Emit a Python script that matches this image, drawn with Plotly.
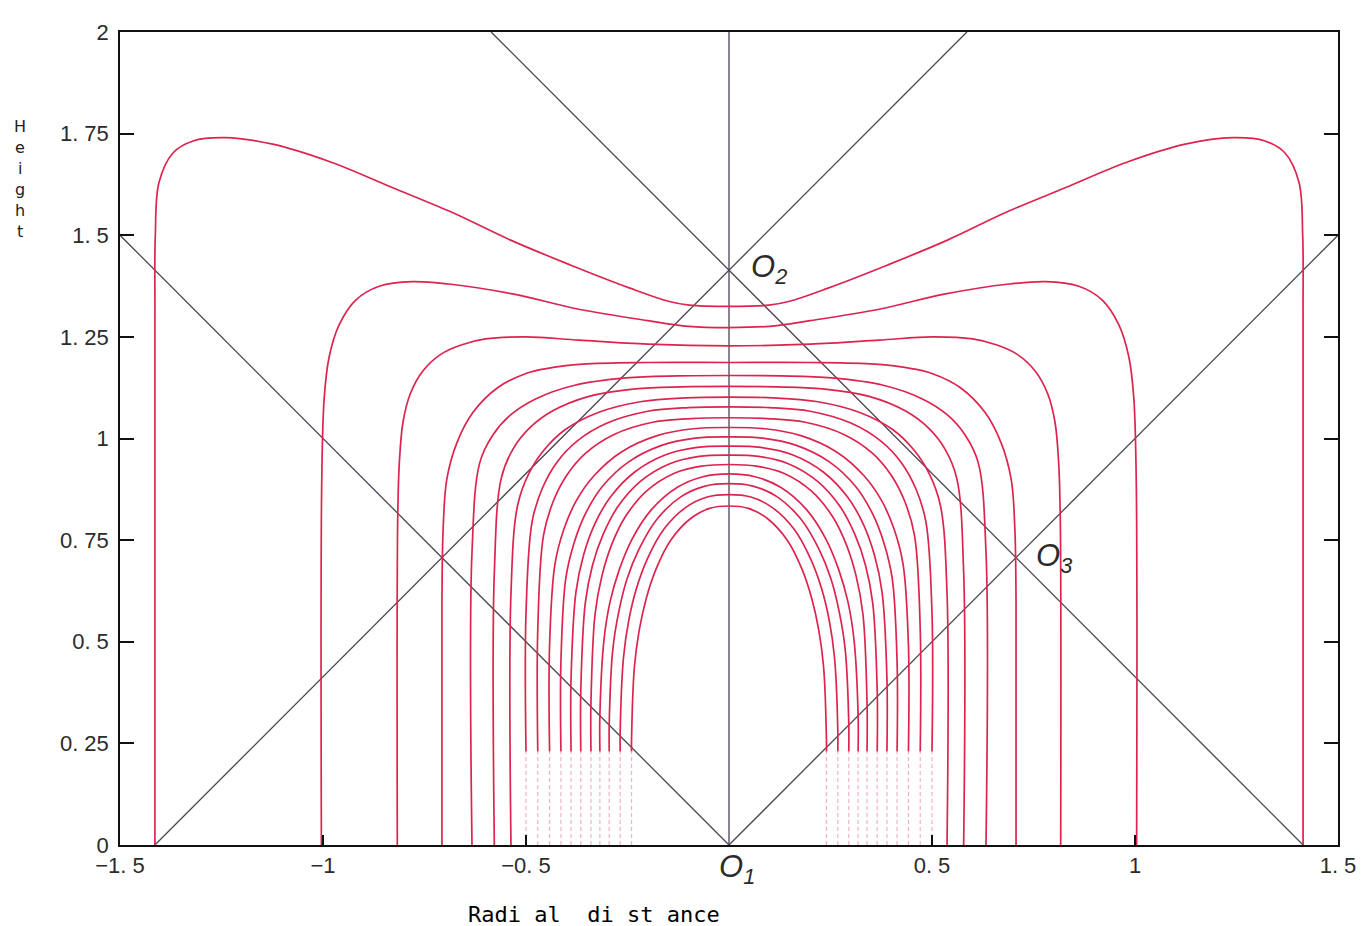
import plotly.graph_objects as go

# ---------------- data (right half of each symmetric curve) ----------------
c1_x = [0, 0.098, 0.147, 0.244, 0.391, 0.538, 0.684, 0.831, 0.978, 1.124, 1.241, 1.320, 1.369, 1.404, 1.413, 1.414, 1.414]
c1_y = [1.325, 1.328, 1.337, 1.370, 1.427, 1.488, 1.557, 1.618, 1.679, 1.724, 1.740, 1.732, 1.703, 1.630, 1.50, 1.30, 0]
c2_x = [0, 0.10, 0.20, 0.37, 0.53, 0.69, 0.78, 0.86, 0.92, 0.96, 0.985, 0.997, 1.003, 1.004]
c2_y = [1.273, 1.276, 1.290, 1.318, 1.355, 1.380, 1.386, 1.375, 1.340, 1.280, 1.200, 1.100, 0.900, 0]
c3_x = [0, 0.20, 0.37, 0.50, 0.60, 0.66, 0.71, 0.755, 0.785, 0.803, 0.812, 0.816, 0.817]
c3_y = [1.228, 1.232, 1.242, 1.250, 1.245, 1.230, 1.207, 1.165, 1.110, 1.040, 0.940, 0.800, 0]
c4_x = [0, 0.20, 0.36, 0.45, 0.50, 0.57, 0.63, 0.67, 0.695, 0.704, 0.707, 0.707]
c4_y = [1.187, 1.187, 1.183, 1.172, 1.160, 1.125, 1.065, 0.990, 0.900, 0.780, 0.600, 0]
c5_x = [0, 0.127, 0.253, 0.380, 0.475, 0.538, 0.582, 0.614, 0.633, 0.633]
c5_y = [1.155, 1.154, 1.149, 1.131, 1.098, 1.058, 1.008, 0.940, 0.720, 0]
c6_x = [0, 0.116, 0.231, 0.347, 0.434, 0.491, 0.532, 0.561, 0.578, 0.578]
c6_y = [1.128, 1.127, 1.122, 1.103, 1.068, 1.026, 0.974, 0.902, 0.670, 0]
c7_x = [0, 0.107, 0.215, 0.322, 0.403, 0.456, 0.494, 0.521, 0.537, 0.537]
c7_y = [1.102, 1.100, 1.091, 1.064, 1.022, 0.971, 0.912, 0.834, 0.620, 0]
c8_x = [0, 0.100, 0.200, 0.300, 0.375, 0.425, 0.460, 0.485, 0.500, 0.500]
c8_y = [1.078, 1.076, 1.067, 1.038, 0.993, 0.940, 0.877, 0.795, 0.570, 0]
c9_x = [0, 0.094, 0.188, 0.283, 0.353, 0.400, 0.433, 0.457, 0.471, 0.471]
c9_y = [1.051, 1.049, 1.040, 1.010, 0.964, 0.909, 0.845, 0.761, 0.530, 0]
c10_x = [0, 0.088, 0.177, 0.265, 0.332, 0.376, 0.407, 0.429, 0.442, 0.442]
c10_y = [1.027, 1.024, 1.007, 0.967, 0.909, 0.847, 0.776, 0.689, 0.490, 0]
c11_x = [0, 0.083, 0.166, 0.248, 0.311, 0.352, 0.381, 0.402, 0.414, 0.414]
c11_y = [1.004, 1.001, 0.983, 0.942, 0.883, 0.818, 0.745, 0.656, 0.450, 0]
c12_x = [0, 0.078, 0.156, 0.233, 0.292, 0.331, 0.358, 0.377, 0.389, 0.389]
c12_y = [0.981, 0.978, 0.960, 0.917, 0.856, 0.789, 0.714, 0.622, 0.410, 0]
c13_x = [0, 0.073, 0.146, 0.219, 0.274, 0.310, 0.336, 0.354, 0.365, 0.365]
c13_y = [0.959, 0.956, 0.938, 0.894, 0.832, 0.764, 0.689, 0.595, 0.380, 0]
c14_x = [0, 0.068, 0.136, 0.204, 0.255, 0.289, 0.313, 0.330, 0.340, 0.340]
c14_y = [0.936, 0.932, 0.914, 0.870, 0.808, 0.739, 0.662, 0.567, 0.350, 0]
c15_x = [0, 0.064, 0.127, 0.191, 0.239, 0.270, 0.293, 0.308, 0.318, 0.318]
c15_y = [0.913, 0.906, 0.880, 0.825, 0.752, 0.678, 0.598, 0.504, 0.320, 0]
c16_x = [0, 0.059, 0.118, 0.177, 0.221, 0.251, 0.271, 0.286, 0.295, 0.295]
c16_y = [0.889, 0.883, 0.857, 0.802, 0.729, 0.655, 0.576, 0.483, 0.300, 0]
c17_x = [0, 0.054, 0.107, 0.161, 0.201, 0.228, 0.247, 0.260, 0.268, 0.268]
c17_y = [0.862, 0.856, 0.830, 0.776, 0.704, 0.631, 0.552, 0.460, 0.280, 0]
c18_x = [0, 0.048, 0.096, 0.144, 0.180, 0.204, 0.221, 0.233, 0.240, 0.240]
c18_y = [0.834, 0.828, 0.802, 0.749, 0.678, 0.606, 0.529, 0.438, 0.260, 0]

CURVES = [(c1_x, c1_y), (c2_x, c2_y), (c3_x, c3_y), (c4_x, c4_y), (c5_x, c5_y),
          (c6_x, c6_y), (c7_x, c7_y), (c8_x, c8_y), (c9_x, c9_y), (c10_x, c10_y),
          (c11_x, c11_y), (c12_x, c12_y), (c13_x, c13_y), (c14_x, c14_y),
          (c15_x, c15_y), (c16_x, c16_y), (c17_x, c17_y), (c18_x, c18_y)]

# straight construction lines: segment start / end points
guide_x0 = [0, 0, 0, -1.414, 1.414]
guide_y0 = [0, 0, 0, 0, 0]
guide_x1 = [0, 1.5, -1.5, 0.586, -0.586]
guide_y1 = [2, 1.5, 1.5, 2, 2]

# labelled points
point_names = ["O", "O", "O"]
point_subs = ["1", "2", "3"]
point_x = [0.0, 0.0, 0.707]
point_y = [0.0, 1.414, 0.707]

x_tickvals = [-1.5, -1, -0.5, 0.5, 1, 1.5]
x_ticktext = ["\u22121.\u00a05", "\u22121", "\u22120.\u00a05", "0.\u00a05", "1", "1.\u00a05"]
y_tickvals = [0, 0.25, 0.5, 0.75, 1, 1.25, 1.5, 1.75, 2]
y_ticktext = ["0", "0.\u00a025", "0.\u00a05", "0.\u00a075", "1", "1.\u00a025", "1.\u00a05", "1.\u00a075", "2"]

x_title = "Radi\u00a0al\u00a0\u00a0di\u00a0st\u00a0ance"
y_title_letters = ["H", "e", "i", "g", "h", "t"]

# ---------------- styles ----------------
CURVE_COLOR = "#dc2450"
FAINT_COLOR = "rgba(236,110,160,0.55)"
GUIDE_COLOR = "#4d4352"
TEXT_COLOR = "#2b2b2b"
FONT = "Liberation Sans, Arial, sans-serif"
FADE_Y = 0.23
FIRST_FAINT = 7


def mirror(xs, ys):
    return [-v for v in xs[::-1]] + list(xs[1:]), list(ys[::-1]) + list(ys[1:])


fig = go.Figure()

# guide lines
gx, gy = [], []
for a, b, c, d in zip(guide_x0, guide_y0, guide_x1, guide_y1):
    gx += [a, c, None]
    gy += [b, d, None]
fig.add_trace(go.Scatter(x=gx, y=gy, mode="lines",
                         line=dict(color=GUIDE_COLOR, width=1.3),
                         hoverinfo="skip", showlegend=False))

# curves
faint_x, faint_y = [], []
for i, (xs, ys) in enumerate(CURVES):
    ys_use = list(ys)
    if i >= FIRST_FAINT:
        ys_use[-1] = FADE_Y
        r = xs[-1]
        faint_x += [-r, -r, None, r, r, None]
        faint_y += [0, FADE_Y, None, 0, FADE_Y, None]
    mx, my = mirror(xs, ys_use)
    fig.add_trace(go.Scatter(x=mx, y=my, mode="lines",
                             line=dict(color=CURVE_COLOR, width=1.7, shape="spline", smoothing=1.0),
                             hoverinfo="skip", showlegend=False))

fig.add_trace(go.Scatter(x=faint_x, y=faint_y, mode="lines",
                         line=dict(color=FAINT_COLOR, width=1.2, dash="4px,3px"),
                         hoverinfo="skip", showlegend=False))

# point labels
offsets = [(8, -2, "center", "top"), (20, 1, "left", "middle"), (18, 0, "left", "middle")]
for name, sub, px, py, (dx, dy, xa, ya) in zip(point_names, point_subs, point_x, point_y, offsets):
    fig.add_annotation(x=px, y=py, xref="x", yref="y",
                       text=f"<i>{name}</i><sub><i>{sub}</i></sub>",
                       showarrow=False, xanchor=xa, yanchor=ya, xshift=dx, yshift=dy,
                       font=dict(family=FONT, size=31, color=TEXT_COLOR))

# axis titles
fig.add_annotation(x=0.389, y=-0.0854, xref="paper", yref="paper", text=x_title,
                   showarrow=False, xanchor="center", yanchor="middle",
                   font=dict(family="DejaVu Sans Mono, monospace", size=22, color="#000"))
for k, ch in enumerate(y_title_letters):
    fig.add_annotation(x=-0.082, y=0.884 - k * 0.0258, xref="paper", yref="paper", text=ch,
                       showarrow=False, xanchor="center", yanchor="middle",
                       font=dict(family="DejaVu Sans, sans-serif", size=16, color="#222"))

fig.update_layout(
    width=1360, height=918,
    margin=dict(l=112, r=28, t=17, b=81),
    paper_bgcolor="white", plot_bgcolor="white",
    showlegend=False,
)
fig.update_xaxes(range=[-1.5, 1.5], tickvals=x_tickvals, ticktext=x_ticktext,
                 ticks="inside", ticklen=10, tickwidth=1.5, tickcolor="#111",
                 showline=True, linecolor="#111", linewidth=1.5, mirror=True,
                 showgrid=False, zeroline=False,
                 tickfont=dict(family=FONT, size=22, color=TEXT_COLOR), ticklabelstandoff=0)
fig.update_yaxes(range=[0, 2], tickvals=y_tickvals, ticktext=y_ticktext,
                 ticks="inside", ticklen=14, tickwidth=1.5, tickcolor="#111",
                 showline=True, linecolor="#111", linewidth=1.5, mirror="ticks",
                 showgrid=False, zeroline=False,
                 tickfont=dict(family=FONT, size=22, color=TEXT_COLOR), ticklabelstandoff=5)

fig.write_html("out.html")
